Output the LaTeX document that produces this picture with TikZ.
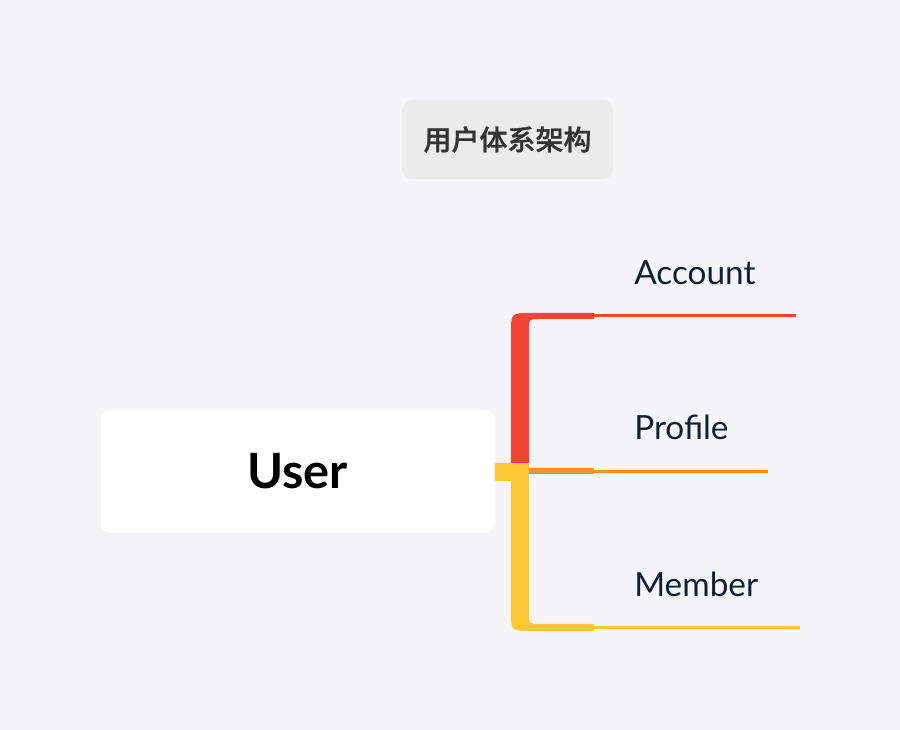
\documentclass[tikz,border=0pt]{standalone}
\usepackage{fontspec}
\setmainfont{Lato}
\newfontfamily\cjk[FakeBold=1]{Noto Sans CJK SC Medium}
\usepackage{tikz}

\definecolor{bgcol}{HTML}{F5F5F9}
\definecolor{titlecol}{HTML}{EBEBEB}
\definecolor{titletext}{HTML}{333333}
\definecolor{labeltext}{HTML}{102033}
\definecolor{redcol}{HTML}{F14337}
\definecolor{orangecol}{HTML}{F7922E}
\definecolor{yellowcol}{HTML}{FEC736}

\tikzset{
    leaf/.style = {anchor=base west, inner sep=0pt, text=labeltext, font=\fontsize{25}{29}\selectfont},
    twig/.style = {line width=2.6pt}
}

\begin{document}
\begin{tikzpicture}[x=0.75pt, y=-0.75pt]
        \fill[bgcol] (0,0) rectangle (900,730);

        \node[fill=titlecol, rounded corners=7.5pt, minimum width=158.25pt, minimum height=59.25pt, inner sep=0pt,
              text=titletext, font=\cjk\fontsize{21}{25}\selectfont] (title) at (507.5,139.5) {用户体系架构};
        \node[fill=white, rounded corners=7.5pt, minimum width=295.5pt, minimum height=92.25pt, inner sep=0pt,
              font=\bfseries\fontsize{36.5}{40}\selectfont] (user) at (297.5,471.5) {User};

        \node[leaf] (account) at (634,285) {Account};
        \node[leaf] (profile) at (634,440) {Profile};
        \node[leaf] (member) at (634,597) {Member};

        \coordinate (accend) at (796,315.5);
        \coordinate (proend) at (768,471.5);
        \coordinate (memend) at (800,627.5);

        % red branch up to Account
        \fill[redcol] (511,463) -- (511,333) .. controls (511,313) .. (531,313) -- (594,313) -- (594,319)
              -- (539,319) .. controls (529,319) .. (529,329) -- (529,463) -- cycle;
        \draw[redcol, twig] (594,315.5) -- (accend);

        % orange branch to Profile
        \fill[orangecol] (529,468.5) rectangle (594,474.5);
        \draw[orangecol, twig] (594,471.5) -- (proend);

        % yellow branch down to Member
        \fill[yellowcol] (user.east) ++(0,-8.5) rectangle (529,481);
        \fill[yellowcol] (511,481) -- (511,611) .. controls (511,631) .. (531,631) -- (594,631) -- (594,624)
              -- (539,624) .. controls (529,624) .. (529,614) -- (529,481) -- cycle;
        \draw[yellowcol, twig] (594,627.5) -- (memend);
\end{tikzpicture}
\end{document}
